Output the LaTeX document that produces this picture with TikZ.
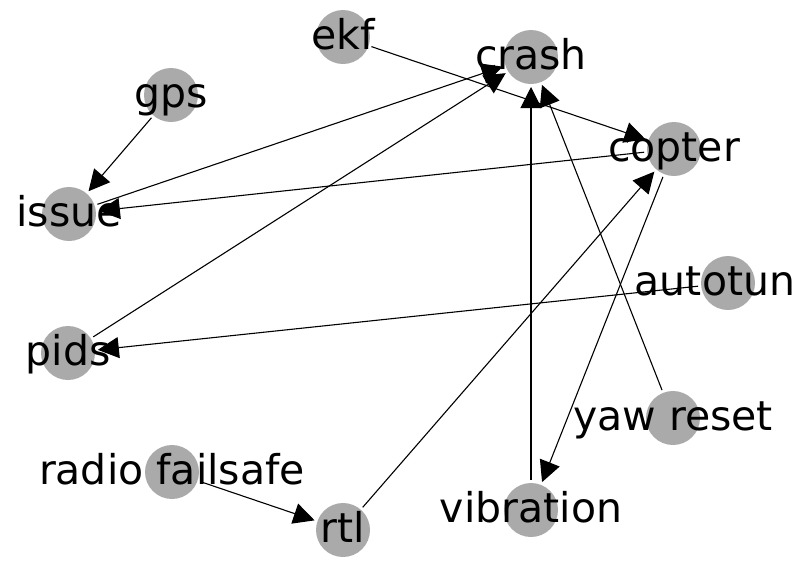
\documentclass[tikz,border=0pt]{standalone}
\usepackage{fontspec}
\setmainfont{DejaVu Sans}
\usepackage{tikz}
\usetikzlibrary{arrows.meta, positioning}
\definecolor{nodegray}{HTML}{AAAAAA}

\begin{document}
\begin{tikzpicture}[
    x=1pt, y=-1pt,
    vertex/.style={
        circle,
        fill=nodegray,
        minimum size=54pt,
        inner sep=0pt,
        outer sep=3pt
    },
    vertextext/.style={
        font=\fontsize{41}{41}\selectfont,
        inner sep=0pt,
        text height=33pt,
        text depth=9pt
    },
    every label/.append style={vertextext},
    arrow/.style={-{Triangle[length=21pt, width=21pt]}, line width=1.1pt, color=black}
]

\useasboundingbox (0,0) rectangle (797,574);

\node[vertex, label=center:ekf] (ekf) at (343,37) {};
\node[vertex, label=center:crash] (crash) at (531,57) {};
\node[vertex, label=center:copter] (copter) at (674,149) {};
\node[vertex, label={[xshift=-13pt]center:autotun}] (autotune) at (728,283) {};
\node[vertex, label=center:yaw reset] (yaw) at (673,418) {};
\node[vertex, label=center:vibration] (vibration) at (531,510) {};
\node[vertex, label=center:rtl] (rtl) at (343,530) {};
\node[vertex, label=center:radio failsafe] (radio) at (172,472) {};
\node[vertex, label=center:pids] (pids) at (68,353) {};
\node[vertex, label=center:issue] (issue) at (69,214) {};
\node[vertex, label=center:gps] (gps) at (171,95) {};

% ARROWS
\draw[arrow] (ekf) -- (copter);
\draw[arrow] (gps) -- (issue);
\draw[arrow] (issue) -- (crash);
\draw[arrow] (pids) -- (crash);
\draw[arrow] (copter) -- (issue);
\draw[arrow] (autotune) -- (pids);
\draw[arrow] (copter) -- (vibration);
\draw[arrow] (vibration) -- (crash);
\draw[arrow] (yaw) -- (crash);
\draw[arrow] (radio) -- (rtl);
\draw[arrow] (rtl) -- (copter);

\end{tikzpicture}
\end{document}
